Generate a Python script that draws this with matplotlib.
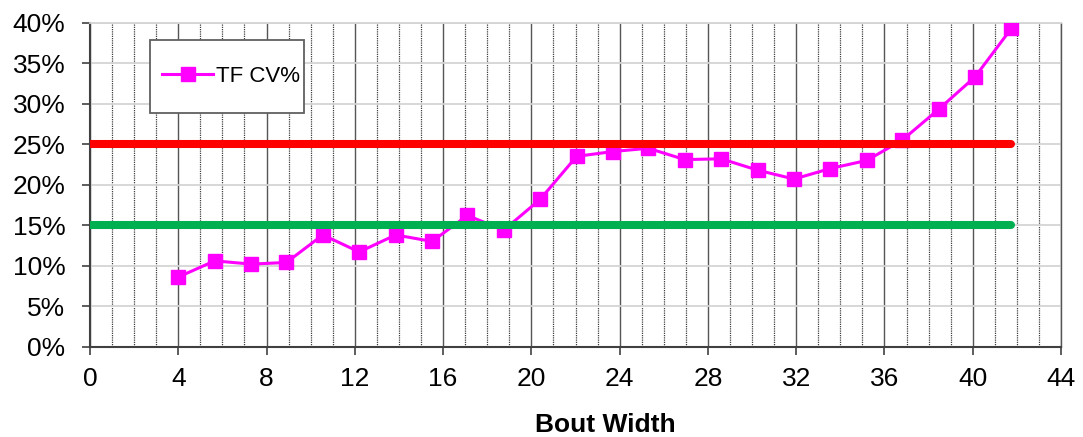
import matplotlib
matplotlib.use('Agg')
import matplotlib.pyplot as plt
from matplotlib.ticker import MultipleLocator, PercentFormatter
from matplotlib.patches import Rectangle

plt.rcParams['font.family'] = ['Liberation Sans', 'DejaVu Sans']

# Dados
bout_width = [4.0, 5.65, 7.3, 8.9, 10.55, 12.2, 13.85, 15.5, 17.1, 18.75, 20.4, 22.05,
              23.7, 25.3, 26.95, 28.6, 30.25, 31.9, 33.55, 35.2, 36.8, 38.45, 40.1, 41.75]
tf_cv = [8.6, 10.6, 10.2, 10.4, 13.8, 11.7, 13.8, 13.0, 16.2, 14.4, 18.2, 23.5,
         24.1, 24.5, 23.1, 23.2, 21.8, 20.7, 22.0, 23.0, 25.5, 29.3, 33.3, 39.3]

# Linhas de limite
limite_x = [0, 41.75]
limite_vermelho = [25, 25]
limite_verde = [15, 15]

fig = plt.figure(figsize=(10.83, 4.37), dpi=100)
ax = fig.add_axes([0.0831, 0.2066, 0.8966, 0.7414])

ax.set_xlim(0, 44)
ax.set_ylim(0, 40)
ax.xaxis.set_major_locator(MultipleLocator(4))
ax.xaxis.set_minor_locator(MultipleLocator(1))
ax.yaxis.set_major_locator(MultipleLocator(5))
ax.yaxis.set_major_formatter(PercentFormatter(xmax=100, decimals=0))

# Grade
ax.grid(True, which='major', axis='y', color='#d4d4d4', lw=1.3, zorder=0)
ax.grid(True, which='major', axis='x', color='#555555', lw=1.0, zorder=0)
ax.grid(True, which='minor', axis='x', color='#404040', lw=0.9, ls=(0, (1, 0.8)), zorder=0)
ax.set_axisbelow(True)

# Série
ax.plot(bout_width, tf_cv, color='#FF00FF', lw=2.2, marker='s', ms=10.5,
        mec='#FF00FF', mfc='#FF00FF', label='TF CV%', zorder=3)

# Limites
ax.plot(limite_x, limite_vermelho, color='#FF0000', lw=5.8, solid_capstyle='round', zorder=4)
ax.plot(limite_x, limite_verde, color='#00B050', lw=5.8, solid_capstyle='round', zorder=4)

# Eixos
for lado in ['left', 'bottom']:
    ax.spines[lado].set_color('#404040')
    ax.spines[lado].set_linewidth(1.5)
ax.spines['top'].set_color('#d4d4d4')
ax.spines['top'].set_linewidth(1.3)
ax.spines['right'].set_color('#555555')
ax.spines['right'].set_linewidth(1.0)

ax.tick_params(axis='both', which='major', direction='out', length=5.8, width=1.1,
               color='#303030', labelsize=19)
ax.tick_params(axis='x', which='major', pad=9)
ax.tick_params(axis='y', which='major', pad=12)
ax.tick_params(axis='x', which='minor', length=0)

ax.set_xlabel('Bout Width', fontsize=19, fontweight='bold')
ax.xaxis.set_label_coords(0.531, -0.205)

# Legenda
leg = ax.legend(loc='center left', bbox_to_anchor=(0.0741, 0.834), frameon=False,
                fontsize=16, handlelength=2.3, handletextpad=0.15, borderpad=0,
                borderaxespad=0)
ax.add_patch(Rectangle((0.0618, 0.721), 0.1585, 0.225, transform=ax.transAxes,
                       facecolor='white', edgecolor='#606060', lw=1.3, zorder=5))
leg.set_zorder(6)

fig.savefig('out.png', dpi=100)
